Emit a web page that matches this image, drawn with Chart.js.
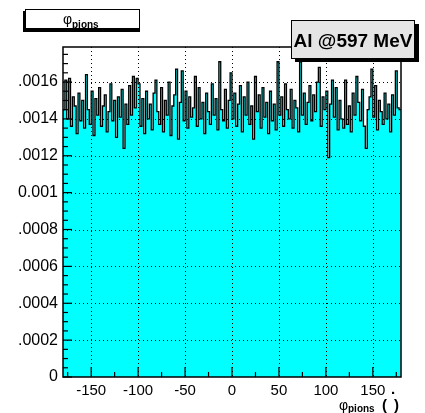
<!DOCTYPE html>
<html><head><meta charset="utf-8">
<script src="https://cdn.jsdelivr.net/npm/chart.js@4/dist/chart.umd.min.js"></script>
<style>html,body{margin:0;padding:0;background:#fff;}canvas{display:block;}</style>
</head><body>
<canvas id="c" width="425" height="413"></canvas>
<script>
// Histogram: phi of pions, 180 bins of 2 degrees from -180 to 180
const xMin = -180, xMax = 180, binWidth = 2;
const counts = [
0.00145,0.00161,0.00140,0.00162,0.00136,0.00152,0.00147,0.00132,0.00154,0.00139,
0.00150,0.00135,0.00164,0.00145,0.00137,0.00155,0.00131,0.00151,0.00142,0.00157,
0.00136,0.00147,0.00153,0.00133,0.00144,0.00159,0.00139,0.00150,0.00130,0.00152,
0.00141,0.00156,0.00124,0.00148,0.00137,0.00158,0.00142,0.00163,0.00146,0.00162,
0.00159,0.00136,0.00151,0.00132,0.00155,0.00140,0.00148,0.00134,0.00154,0.00161,
0.00144,0.00137,0.00157,0.00133,0.00150,0.00142,0.00160,0.00131,0.00147,0.00153,
0.00167,0.00129,0.00149,0.00166,0.00139,0.00155,0.00135,0.00152,0.00141,0.00146,
0.00163,0.00136,0.00157,0.00140,0.00149,0.00132,0.00154,0.00144,0.00137,0.00159,
0.00142,0.00151,0.00134,0.00171,0.00145,0.00139,0.00156,0.00135,0.00150,0.00165,
0.00140,0.00154,0.00136,0.00148,0.00158,0.00133,0.00152,0.00142,0.00160,0.00137,
0.00147,0.00129,0.00163,0.00144,0.00153,0.00135,0.00157,0.00141,0.00149,0.00132,
0.00155,0.00139,0.00148,0.00134,0.00171,0.00142,0.00152,0.00136,0.00159,0.00145,
0.00140,0.00156,0.00135,0.00150,0.00146,0.00133,0.00171,0.00142,0.00154,0.00137,
0.00149,0.00158,0.00139,0.00153,0.00144,0.00160,0.00168,0.00136,0.00152,0.00145,
0.00155,0.00119,0.00148,0.00161,0.00141,0.00157,0.00134,0.00150,0.00140,0.00135,
0.00161,0.00137,0.00147,0.00133,0.00154,0.00142,0.00163,0.00149,0.00139,0.00156,
0.00136,0.00124,0.00145,0.00152,0.00167,0.00141,0.00158,0.00134,0.00150,0.00144,
0.00137,0.00154,0.00140,0.00148,0.00133,0.00153,0.00142,0.00166,0.00146,0.00145
];
const xTicks = [-150,-100,-50,0,50,100,150];
const yTicks = [0,0.0002,0.0004,0.0006,0.0008,0.001,0.0012,0.0014,0.0016];
const yMax = 0.00179;
const titleText = ['φ','pions'];
const labelText = 'Al @597 MeV';

const pts = counts.map((v,i)=>({x: xMin + i*binWidth, y: v}));
pts.push({x: xMax, y: counts[counts.length-1]});

const FONT = '"Liberation Sans", Arial, Helvetica, sans-serif';

function fmtY(v){
  if (Math.abs(v) < 1e-12) return '0';
  if (Math.abs(v-0.001) < 1e-12) return '0.001';
  return v.toFixed(4).replace(/^0/,'');
}

const rootPlugin = {
  id: 'rootStyle',
  afterDatasetsDraw(chart){
    const {ctx, chartArea: a, scales:{x, y}} = chart;
    ctx.save();
    ctx.strokeStyle = '#000'; ctx.lineWidth = 1; ctx.setLineDash([1,3]);
    xTicks.forEach(t=>{ const px = Math.round(x.getPixelForValue(t))+0.5;
      ctx.beginPath(); ctx.moveTo(px,a.top); ctx.lineTo(px,a.bottom); ctx.stroke(); });
    yTicks.forEach(t=>{ if(t===0) return; const py = Math.round(y.getPixelForValue(t))+0.5;
      ctx.beginPath(); ctx.moveTo(a.left,py); ctx.lineTo(a.right,py); ctx.stroke(); });
    ctx.setLineDash([]);
    ctx.lineWidth = 1.2;
    yTicks.forEach(t=>{ const py = y.getPixelForValue(t);
      ctx.beginPath(); ctx.moveTo(a.left,py); ctx.lineTo(a.left+9,py); ctx.stroke(); });
    for (let k=0; k<yTicks.length; k++){
      for (let m=1;m<4;m++){
        const v = yTicks[k] + m*0.00005;
        if (v > yMax) break;
        const py = y.getPixelForValue(v);
        ctx.beginPath(); ctx.moveTo(a.left,py); ctx.lineTo(a.left+5,py); ctx.stroke();
      }
    }
    xTicks.forEach(t=>{ const px = x.getPixelForValue(t);
      ctx.beginPath(); ctx.moveTo(px,a.bottom); ctx.lineTo(px,a.bottom-10); ctx.stroke(); });
    for (let v=-175; v<=175; v+=50){ const px = x.getPixelForValue(v);
      ctx.beginPath(); ctx.moveTo(px,a.bottom); ctx.lineTo(px,a.bottom-5); ctx.stroke(); }
    ctx.lineWidth = 1.5;
    ctx.strokeRect(a.left, a.top, a.right-a.left, a.bottom-a.top);
    ctx.restore();
  },
  afterDraw(chart){
    const ctx = chart.ctx;
    ctx.save();
    ctx.fillStyle = '#000';
    ctx.fillRect(23, 11, 117, 21);
    ctx.fillStyle = '#fff';
    ctx.fillRect(25, 9, 115, 20);
    ctx.strokeStyle = '#000'; ctx.lineWidth = 1;
    ctx.strokeRect(25.5, 9.5, 114, 19);
    ctx.fillStyle = '#000';
    ctx.textBaseline = 'alphabetic'; ctx.textAlign = 'left';
    ctx.font = '14px ' + FONT;
    ctx.fillText(titleText[0], 63, 24);
    ctx.font = 'bold 10px ' + FONT;
    ctx.fillText(titleText[1], 72, 28);
    ctx.fillStyle = '#000';
    ctx.fillRect(295, 24, 124, 38);
    ctx.fillStyle = '#e5e5e5';
    ctx.fillRect(291, 20, 124, 39);
    ctx.strokeStyle = '#000'; ctx.lineWidth = 1;
    ctx.strokeRect(291.5, 20.5, 123, 38);
    ctx.fillStyle = '#000';
    ctx.font = 'bold 19px ' + FONT;
    ctx.textAlign = 'center';
    ctx.fillText(labelText, 353, 47);
    ctx.textAlign = 'left';
    ctx.font = '14px ' + FONT;
    ctx.fillText('φ', 339, 410);
    ctx.font = 'bold 10px ' + FONT;
    ctx.fillText('pions', 348, 412);
    ctx.font = 'bold 15px ' + FONT;
    ctx.fillText('(', 382, 410);
    ctx.fillText(')', 394, 410);
    ctx.fillText('.', 391, 394);
    ctx.restore();
  }
};

new Chart(document.getElementById('c'), {
  type: 'line',
  data: { datasets: [{
    data: pts,
    stepped: 'before',
    borderColor: '#000',
    borderWidth: 1.3,
    backgroundColor: '#00ffff',
    fill: 'origin',
    pointRadius: 0,
    tension: 0
  }]},
  options: {
    responsive: false,
    animation: false,
    events: [],
    layout: { padding: { top: 47, right: 24, left: 0, bottom: 0 } },
    plugins: { legend: { display: false }, tooltip: { enabled: false } },
    scales: {
      x: {
        type: 'linear', min: xMin, max: xMax,
        grid: { display: false, drawTicks: false },
        border: { display: false },
        afterBuildTicks: s => { s.ticks = xTicks.map(v=>({value: v})); },
        afterFit: s => { s.height = 36; },
        ticks: { padding: 5, color: '#000', font: { family: FONT, size: 15 }, maxRotation: 0,
          callback: v => String(v) }
      },
      y: {
        type: 'linear', min: 0, max: yMax,
        grid: { display: false, drawTicks: false },
        border: { display: false },
        afterBuildTicks: s => { s.ticks = yTicks.map(v=>({value: v})); },
        afterFit: s => { s.width = 63; },
        ticks: { padding: 5, color: '#000', font: { family: FONT, size: 16 }, callback: v => fmtY(v) }
      }
    }
  },
  plugins: [rootPlugin]
});
</script>
</body></html>
